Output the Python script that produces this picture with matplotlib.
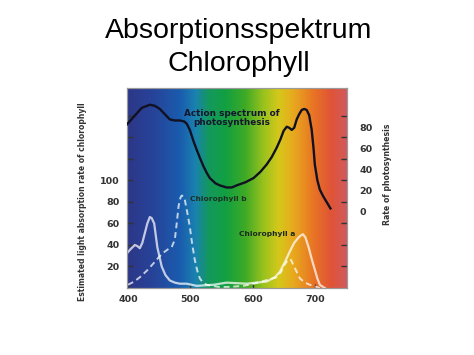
import numpy as np
import matplotlib
matplotlib.use("Agg")
import matplotlib.pyplot as plt
from matplotlib.colors import LinearSegmentedColormap

# ---- data ----
title_lines = ["Absorptionsspektrum", "Chlorophyll"]

action_wl = [398, 410, 422, 435, 443, 451, 459, 467, 475, 483, 490, 494, 499, 505, 510, 516, 521, 526, 531,
             540, 547, 558, 566, 574, 588, 601, 612, 622, 630, 638, 644, 649, 654, 658, 662, 666, 670,
             674, 678, 682, 686, 690, 694, 697, 699, 703, 707, 712, 718, 724]
action_val = [83, 91, 99, 102, 101, 98, 93, 88, 87, 87, 86, 84, 78, 67, 59, 50, 43, 37, 32,
              27, 25, 23, 23, 25, 28, 32, 38, 45, 52, 61, 69, 77, 81, 80, 78, 80, 88,
              93, 97, 98, 97, 92, 78, 60, 45, 30, 21, 15, 9, 3]

chla_wl = [398, 404, 411, 415, 419, 423, 427, 431, 435, 438, 442, 447, 454, 460, 467, 475, 483, 494, 510,
           537, 558, 590, 622, 635, 643, 651, 659, 666, 673, 677, 680, 684, 689, 694, 699, 703, 707, 712, 715]
chla_val = [32, 36, 40, 39, 37, 42, 51, 60, 66, 65, 60, 38, 20, 12, 7, 5, 4, 4, 2,
            3, 5, 4, 6, 10, 15, 24, 34, 42, 47, 49, 50, 47, 38, 27, 17, 9, 3, 1, 0]

chlb_wl = [400, 410, 419, 430, 441, 450, 457, 464, 470, 475, 478, 481, 484, 486, 489, 491, 495, 499, 503, 507,
           511, 515, 520, 526, 545, 563, 585, 601, 620, 638, 645, 651, 657, 661, 665, 670, 675, 683, 691, 707]
chlb_val = [3, 6, 10, 16, 23, 29, 33, 36, 38, 45, 60, 76, 84, 86, 85, 82, 70, 57, 40, 26,
            16, 9, 5, 3, 1, 1, 2, 4, 7, 10, 15, 22, 27, 26, 21, 15, 9, 5, 3, 0]

left_ticks = [20, 40, 60, 80, 100, 120, 140, 160]
left_labels = ["20", "40", "60", "80", "100", "", "", ""]
right_ticks = [0, 20, 40, 60, 80]
x_ticks = [400, 500, 600, 700]

# ---- figure ----
fig = plt.figure(figsize=(4.74, 3.55), dpi=100)
fig.patch.set_facecolor("white")

W, H = 474, 355
ax = fig.add_axes([126.7 / W, 1 - 288 / H, 220 / W, 200 / H])
ax.set_xlim(398, 750)
ax.set_ylim(0, 186)

# spectrum background
stops = [(0.0, "#2d3788"), (0.12, "#26449a"), (0.24, "#1a5cae"), (0.31, "#1a82b0"),
         (0.37, "#14985e"), (0.45, "#12a040"), (0.54, "#40aa26"), (0.62, "#98c21e"),
         (0.69, "#d4c81a"), (0.76, "#e9a81e"), (0.85, "#e87424"), (0.93, "#e05436"),
         (1.0, "#d25a5c")]
cmap = LinearSegmentedColormap.from_list("spec", stops)
grad = np.linspace(0, 1, 400).reshape(1, -1)
ax.imshow(grad, cmap=cmap, aspect="auto", extent=(398, 750, 0, 186), zorder=0)

line_col = "white"
ax.plot(chla_wl, chla_val, color=line_col, alpha=0.72, lw=1.6, zorder=2)
ax.plot(chlb_wl, chlb_val, color=line_col, alpha=0.72, lw=1.4, ls=(0, (3, 2)), zorder=2)

ax2 = ax.twinx()
ax2.set_ylim(-73, 118)
ax2.plot(action_wl, action_val, color="#111122", lw=1.7, zorder=3)

# ticks
ax.set_xticks(x_ticks)
ax.set_xticklabels([str(t) for t in x_ticks])
ax.set_yticks(left_ticks)
ax.set_yticklabels(left_labels)
ax.tick_params(axis="both", direction="in", length=3, width=1, color="#333333",
               labelsize=6.8, labelcolor="#333333", pad=5)
ax.tick_params(axis="y", right=True, length=4)
for lab in ax.get_xticklabels() + ax.get_yticklabels():
    lab.set_fontweight("bold")
    lab.set_family("DejaVu Sans")

ax2.set_yticks(right_ticks)
ax2.set_yticklabels([str(t) for t in right_ticks])
ax2.tick_params(axis="y", length=0, pad=9, labelsize=6.8, labelcolor="#333333")
for lab in ax2.get_yticklabels():
    lab.set_fontweight("bold")
    lab.set_family("DejaVu Sans")

for a in (ax, ax2):
    for s in a.spines.values():
        s.set_color("#9a9a9a")
        s.set_linewidth(0.8)

ax.set_ylabel("Estimated light absorption rate of chlorophyll", fontsize=5.5,
              fontweight="bold", color="#333333")
ax.yaxis.set_label_coords(-0.18, 0.43)
ax2.set_ylabel("Rate of photosynthesis", fontsize=5.6, fontweight="bold",
               color="#333333")
ax2.yaxis.set_label_coords(1.165, 0.57)

# annotations
ax.text(566, 158, "Action spectrum of\nphotosynthesis", ha="center", va="center",
        fontsize=6.4, fontweight="bold", color="#161630", linespacing=1.0, zorder=4)
ax.text(499, 83, "Chlorophyll b", ha="left", va="center", fontsize=5.4,
        fontweight="bold", color="#1b3324", zorder=4)
ax.text(577, 50, "Chlorophyll a", ha="left", va="center", fontsize=5.4,
        fontweight="bold", color="#1b2a20", zorder=4)

# title
fig.text(239 / W, 1 - 38 / H, title_lines[0], ha="center", va="baseline",
         fontsize=20.5, family="Liberation Sans", color="black")
fig.text(239 / W, 1 - 71 / H, title_lines[1], ha="center", va="baseline",
         fontsize=20.5, family="Liberation Sans", color="black")

fig.savefig("out.png", dpi=100)
